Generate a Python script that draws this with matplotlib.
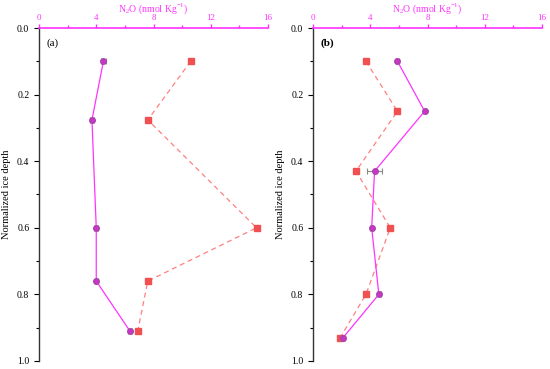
import numpy as np
import matplotlib.pyplot as plt
from matplotlib.ticker import MultipleLocator

plt.rcParams['font.family'] = ['Liberation Serif', 'DejaVu Serif']
plt.rcParams['mathtext.fontset'] = 'custom'
plt.rcParams['mathtext.rm'] = 'Liberation Serif'

# ── Data ──────────────────────────────────────────────────────────────────────
# panel (a)
a_depth_m = [0.10, 0.276, 0.60, 0.76, 0.91]
a_n2o_m   = [4.5, 3.7, 4.0, 4.0, 6.35]
a_err_m   = [0.15, 0.15, 0.15, 0.12, 0.12]
a_depth_r = [0.10, 0.276, 0.60, 0.76, 0.91]
a_n2o_r   = [10.6, 7.6, 15.2, 7.6, 6.9]

# panel (b)
b_depth_m = [0.10, 0.25, 0.43, 0.60, 0.80, 0.93]
b_n2o_m   = [5.9, 7.8, 4.3, 4.1, 4.6, 2.1]
b_err_m   = [0.12, 0.12, 0.5, 0.12, 0.12, 0.12]
b_depth_r = [0.10, 0.25, 0.43, 0.60, 0.80, 0.93]
b_n2o_r   = [3.7, 5.9, 3.0, 5.4, 3.7, 1.9]

MAG = "#ff33ff"
RED = "#f05050"

fig = plt.figure(figsize=(5.5, 3.69), dpi=100)
ax_a = fig.add_axes([0.0709, 0.0217, 0.4164, 0.9024])
ax_b = fig.add_axes([0.5691, 0.0217, 0.4164, 0.9024])

panels = [
    (ax_a, "(a)", a_depth_m, a_n2o_m, a_err_m, a_depth_r, a_n2o_r, "normal"),
    (ax_b, "(b)", b_depth_m, b_n2o_m, b_err_m, b_depth_r, b_n2o_r, "bold"),
]

for ax, lab, dm, xm, em, dr, xr, fw in panels:
    ax.plot(xr, dr, color="#ff8080", linestyle=(0, (4, 3)), linewidth=0.9, zorder=2)
    ax.plot(xr, dr, linestyle="none", marker="s", markersize=4,
            color=RED, markeredgecolor=RED, zorder=3)
    ax.plot(xm, dm, color=MAG, linewidth=0.9, zorder=2)
    ax.errorbar(xm, dm, xerr=em, fmt="none", ecolor="#888888",
                elinewidth=0.8, capsize=2, capthick=0.8, zorder=4)
    ax.plot(xm, dm, linestyle="none", marker="o", markersize=4,
            color="#cc33cc", markeredgecolor="#aa44aa", zorder=5)

    ax.set_xlim(0, 16)
    ax.set_ylim(1.0, 0.0)
    ax.xaxis.tick_top()
    ax.xaxis.set_label_position("top")
    ax.xaxis.set_minor_locator(MultipleLocator(2))
    ax.yaxis.set_minor_locator(MultipleLocator(0.1))
    ax.set_yticks(np.arange(0, 1.01, 0.2))
    ax.set_yticklabels([f"{v:.1f}" for v in np.arange(0, 1.01, 0.2)], fontsize=7)
    ax.set_xticks([0, 4, 8, 12, 16])
    ax.set_xticklabels(["0", "4", "8", "12", "16"], fontsize=6.5, color=MAG)

    ax.spines["bottom"].set_visible(False)
    ax.spines["right"].set_visible(False)
    ax.spines["top"].set_color(MAG)
    ax.spines["top"].set_linewidth(1.2)
    ax.spines["left"].set_color("#333333")
    ax.spines["left"].set_linewidth(1.0)
    ax.tick_params(axis="x", which="both", colors=MAG, direction="out")
    ax.tick_params(axis="x", which="major", length=3, width=1, pad=1)
    ax.tick_params(axis="x", which="minor", length=2, width=1)
    ax.tick_params(axis="y", which="major", length=3.5, width=0.8, direction="out")
    ax.tick_params(axis="y", which="minor", length=2, width=0.8, direction="out")

    ax.set_xlabel("N$_2$O (nmol Kg$^{-1}$)", fontsize=7, color=MAG, labelpad=2)
    ax.set_ylabel("Normalized ice depth", fontsize=7.5, labelpad=4)
    ax.text(0.5, 0.045, lab, fontsize=8, fontweight=fw, va="center")

fig.savefig("out.png", dpi=100)
